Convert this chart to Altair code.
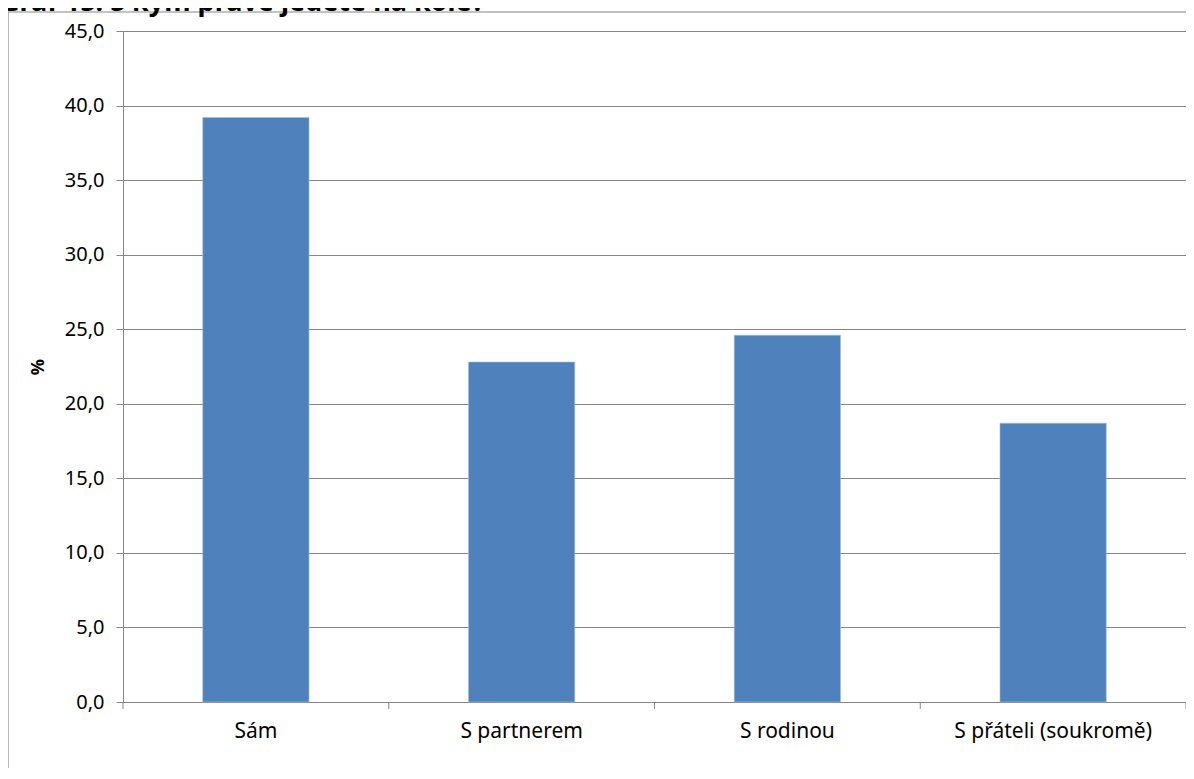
import altair as alt
import pandas as pd

categories = ["Sám", "S partnerem", "S rodinou", "S přáteli (soukromě)"]
values = [39.2, 22.8, 24.6, 18.7]
y_ticks = [0, 5, 10, 15, 20, 25, 30, 35, 40, 45]
title_text = "Graf 15: S kým právě jedete na kole?"

df = pd.DataFrame({"kat": categories, "pct": values})

W, H = 1063, 671
GRAY = "#868686"
FONT = "Noto Sans"
XSCALE = alt.Scale(paddingInner=0.6, paddingOuter=0.3)

base = alt.Chart(df)

bars = base.mark_bar(color="#4F81BD", stroke="#A7BFDE", strokeWidth=0.6).encode(
    x=alt.X(
        "kat:N",
        sort=categories,
        title=None,
        scale=XSCALE,
        axis=alt.Axis(
            ticks=False,
            domainColor=GRAY,
            labelAngle=0,
            labelFont=FONT,
            labelFontSize=21,
            labelColor="#000000",
            labelPadding=18,
            labelLimit=0,
            grid=False,
        ),
    ),
    y=alt.Y(
        "pct:Q",
        title="%",
        scale=alt.Scale(domain=[0, 45], nice=False),
        axis=alt.Axis(
            values=y_ticks,
            labelExpr="replace(format(datum.value, '.1f'), '.', ',')",
            tickSize=7,
            tickColor=GRAY,
            domainColor=GRAY,
            gridColor=GRAY,
            gridWidth=1,
            labelFont=FONT,
            labelFontSize=20,
            labelColor="#000000",
            labelPadding=12,
            titleFont=FONT,
            titleFontSize=18,
            titleFontWeight="bold",
            titleColor="#000000",
            titlePadding=17,
        ),
    ),
)

tick_left = base.mark_rule(
    color=GRAY, strokeWidth=1, xOffset=alt.expr("-0.75*bandwidth('x')")
).encode(
    x=alt.X("kat:N", sort=categories, scale=XSCALE, bandPosition=0),
    y=alt.value(H),
    y2=alt.value(H + 7),
)
tick_last = alt.Chart(df.tail(1)).mark_rule(
    color=GRAY, strokeWidth=1, xOffset=alt.expr("1.75*bandwidth('x')")
).encode(
    x=alt.X("kat:N", sort=categories, scale=XSCALE, bandPosition=0),
    y=alt.value(H),
    y2=alt.value(H + 7),
)

border = alt.Chart(pd.DataFrame({"a": [0]})).mark_rect(
    fill=None, stroke=GRAY, strokeWidth=1.2, clip=False
).encode(
    x=alt.value(-115),
    x2=alt.value(W + 20),
    y=alt.value(-19),
    y2=alt.value(H + 120),
)

title = alt.Chart(pd.DataFrame({"t": [title_text]})).mark_text(
    align="left", baseline="alphabetic", font=FONT, fontSize=27,
    fontWeight="bold", color="#000000", clip=False
).encode(
    text="t:N",
    x=alt.value(-123),
    y=alt.value(-20),
)

chart = alt.layer(border, bars, tick_left, tick_last, title).properties(
    width=W,
    height=H,
    autosize=alt.AutoSizeParams(type="none"),
    padding={"left": 115, "top": 23, "right": 0, "bottom": 66},
).configure_view(stroke=None).configure(background="white")

chart.save("out.html", embed_options={"renderer": "svg", "actions": False})
